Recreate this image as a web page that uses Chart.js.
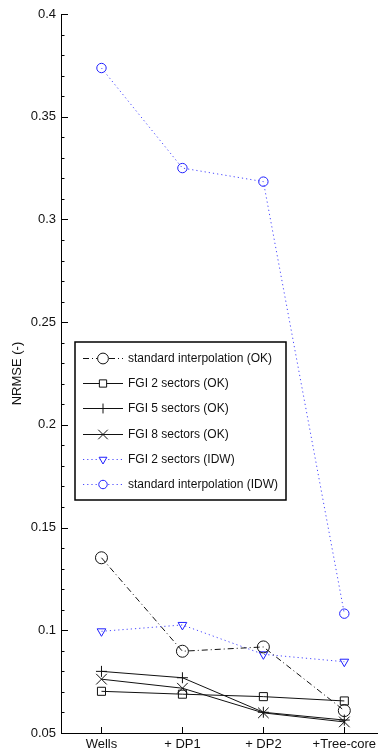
<!DOCTYPE html>
<html>
<head>
<meta charset="utf-8">
<script src="https://cdn.jsdelivr.net/npm/chart.js@4/dist/chart.umd.min.js"></script>
<style>
  html, body { margin: 0; padding: 0; background: #fff; }
  canvas { display: block; }
</style>
</head>
<body>
<canvas id="c" width="378" height="751" style="width:378px;height:751px"></canvas>
<script>
// ---- data ----
const categories = ['Wells', '+ DP1', '+ DP2', '+Tree-core'];
const stdOK   = [0.1353, 0.0898, 0.0919, 0.0609];
const fgi2OK  = [0.0703, 0.0689, 0.0677, 0.0656];
const fgi5OK  = [0.0800, 0.0769, 0.0601, 0.0563];
const fgi8OK  = [0.0762, 0.0718, 0.0598, 0.0554];
const fgi2IDW = [0.0995, 0.1026, 0.0883, 0.0847];
const stdIDW  = [0.3737, 0.3250, 0.3184, 0.1081];
const seriesLabels = [
  'standard interpolation (OK)',
  'FGI 2 sectors (OK)',
  'FGI 5 sectors (OK)',
  'FGI 8 sectors (OK)',
  'FGI 2 sectors (IDW)',
  'standard interpolation (IDW)'
];
const yTickValues = [0.05, 0.1, 0.15, 0.2, 0.25, 0.3, 0.35, 0.4];
const yTickLabels = ['0.05', '0.1', '0.15', '0.2', '0.25', '0.3', '0.35', '0.4'];
const yMinorStep = 0.01;
const yTitle = 'NRMSE (-)';

const FONT = "'Liberation Sans', Arial, Helvetica, sans-serif";
const toXY = arr => arr.map((v, i) => ({ x: i, y: v }));
const TRANSP = 'rgba(0,0,0,0)';
const BLUE = '#1f1fff';
const BLUE_LINE = 'rgba(40,40,255,0.85)';

function ds(label, data, opts) {
  return Object.assign({
    label, data: toXY(data),
    borderWidth: 1, pointBorderWidth: 1,
    pointBackgroundColor: TRANSP, fill: false, tension: 0,
    pointHoverRadius: 0
  }, opts);
}

const datasets = [
  ds(seriesLabels[0], stdOK,   { borderColor: '#111', borderDash: [6, 3, 1, 3], pointStyle: 'circle', pointRadius: 6, pointBorderColor: '#111' }),
  ds(seriesLabels[1], fgi2OK,  { borderColor: '#111', borderDash: [], pointStyle: 'rect', pointRadius: 5.7, pointBorderColor: '#111' }),
  ds(seriesLabels[2], fgi5OK,  { borderColor: '#111', borderDash: [], pointStyle: 'cross', pointRadius: 5.5, pointBorderColor: '#111' }),
  ds(seriesLabels[3], fgi8OK,  { borderColor: '#111', borderDash: [], pointStyle: 'crossRot', pointRadius: 7.5, pointBorderColor: '#111' }),
  ds(seriesLabels[4], fgi2IDW, { borderColor: BLUE_LINE, borderDash: [1.2, 3], pointStyle: 'triangle', pointRotation: 180, pointRadius: 5, pointBorderColor: BLUE }),
  ds(seriesLabels[5], stdIDW,  { borderColor: BLUE_LINE, borderDash: [1.2, 3], pointStyle: 'circle', pointRadius: 4.7, pointBorderColor: BLUE })
];

// inner tick marks
const innerTicks = {
  id: 'innerTicks',
  afterDraw(chart) {
    const { ctx, chartArea, scales } = chart;
    const ys = scales.y, xs = scales.x;
    ctx.save();
    ctx.strokeStyle = '#000';
    ctx.lineWidth = 1;
    ctx.beginPath();
    const n = Math.round((ys.max - ys.min) / yMinorStep);
    for (let k = 0; k <= n; k++) {
      const v = ys.min + k * yMinorStep;
      const major = yTickValues.some(t => Math.abs(t - v) < 1e-9);
      const py = Math.round(ys.getPixelForValue(v)) + 0.5;
      ctx.moveTo(chartArea.left, py);
      ctx.lineTo(chartArea.left + (major ? 7 : 3.5), py);
    }
    xs.ticks.forEach(t => {
      const px = Math.round(xs.getPixelForValue(t.value)) + 0.5;
      ctx.moveTo(px, chartArea.bottom);
      ctx.lineTo(px, chartArea.bottom - 6);
    });
    ctx.stroke();
    ctx.restore();
  }
};

// box legend with line samples
const boxLegend = {
  id: 'boxLegend',
  afterDraw(chart) {
    const ctx = chart.ctx;
    const x0 = 75, y0 = 342, w = 211, h = 158;
    ctx.save();
    ctx.fillStyle = '#fff';
    ctx.fillRect(x0, y0, w, h);
    ctx.strokeStyle = '#000';
    ctx.lineWidth = 1.5;
    ctx.strokeRect(x0, y0, w, h);
    chart.data.datasets.forEach((d, i) => {
      const y = Math.round(y0 + 15.8 + i * 25.3) + 0.5;
      ctx.save();
      ctx.strokeStyle = d.borderColor;
      ctx.lineWidth = d.borderWidth;
      ctx.setLineDash(d.borderDash || []);
      ctx.beginPath();
      ctx.moveTo(x0 + 8, y);
      ctx.lineTo(x0 + 48, y);
      ctx.stroke();
      ctx.restore();
      ctx.save();
      ctx.strokeStyle = d.pointBorderColor;
      ctx.fillStyle = '#fff';
      ctx.lineWidth = 1;
      Chart.helpers.drawPoint(ctx, {
        pointStyle: d.pointStyle, radius: d.pointRadius * 0.9,
        rotation: d.pointRotation || 0, borderWidth: 1
      }, x0 + 28, y);
      ctx.restore();
      ctx.fillStyle = '#111';
      ctx.font = '12px ' + FONT;
      ctx.textBaseline = 'middle';
      ctx.textAlign = 'left';
      ctx.fillText(d.label, x0 + 53, y);
    });
    ctx.restore();
  }
};

new Chart(document.getElementById('c'), {
  type: 'line',
  data: { datasets },
  options: {
    responsive: false,
    animation: false,
    devicePixelRatio: 1,
    layout: { autoPadding: false, padding: { top: 14, left: 0, right: 0, bottom: 0 } },
    plugins: { legend: { display: false }, tooltip: { enabled: false } },
    events: [],
    scales: {
      x: {
        type: 'linear',
        min: -0.5, max: 3.416,
        afterBuildTicks: s => { s.ticks = categories.map((c, i) => ({ value: i })); },
        ticks: {
          callback: (v, i) => categories[i],
          autoSkip: false, maxRotation: 0, minRotation: 0,
          padding: 4, color: '#111', font: { family: FONT, size: 13 }
        },
        grid: { display: false, drawTicks: false },
        border: { display: true, color: '#000', width: 1 },
        afterFit: s => { s.height = 18; s.paddingLeft = 0; s.paddingRight = 0; }
      },
      y: {
        type: 'linear',
        min: 0.05, max: 0.4,
        afterBuildTicks: s => { s.ticks = yTickValues.map(v => ({ value: v })); },
        ticks: {
          callback: (v, i) => yTickLabels[i],
          padding: 5, color: '#111', font: { family: FONT, size: 13 }
        },
        grid: { display: false, drawTicks: false },
        border: { display: true, color: '#000', width: 1 },
        title: { display: true, text: yTitle, color: '#111', font: { family: FONT, size: 13 }, padding: { top: 10, bottom: 0 } },
        afterFit: s => { s.width = 61; s.paddingTop = 0; s.paddingBottom = 0; }
      }
    }
  },
  plugins: [innerTicks, boxLegend]
});
</script>
</body>
</html>
